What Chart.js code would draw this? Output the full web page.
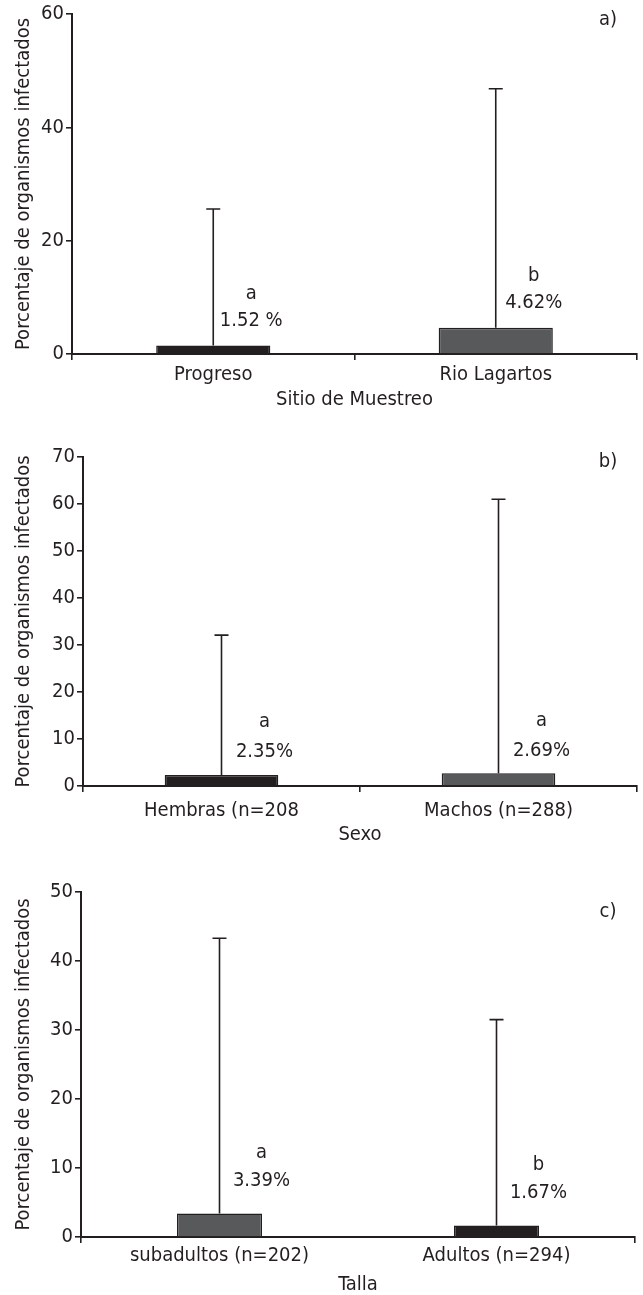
<!DOCTYPE html>
<html>
<head>
<meta charset="utf-8">
<script src="https://cdn.jsdelivr.net/npm/chart.js@4.4.1/dist/chart.umd.min.js"></script>
<style>
  html, body { margin: 0; padding: 0; background: #fff; }
  body { width: 643px; height: 1295px; position: relative; overflow: hidden; }
  .panel { position: absolute; left: 0; width: 643px; }
  canvas { display: block; }
</style>
</head>
<body>
<div class="panel" style="top:0"><canvas id="chartA" width="643" height="414"></canvas></div>
<div class="panel" style="top:420px"><canvas id="chartB" width="643" height="429"></canvas></div>
<div class="panel" style="top:860px"><canvas id="chartC" width="643" height="437"></canvas></div>
<script>
// a) sitio de muestreo
const sitioLabels = ["Progreso", "Rio Lagartos"];
const sitioValues = [1.52, 4.62];
const sitioUpper = [25.6, 46.8];
const sitioLetters = ["a", "b"];
const sitioText = ["1.52 %", "4.62%"];

// b) sexo
const sexoLabels = ["Hembras (n=208", "Machos (n=288)"];
const sexoValues = [2.35, 2.69];
const sexoUpper = [32.1, 61.0];
const sexoLetters = ["a", "a"];
const sexoText = ["2.35%", "2.69%"];

// c) talla
const tallaLabels = ["subadultos (n=202)", "Adultos (n=294)"];
const tallaValues = [3.39, 1.67];
const tallaUpper = [43.3, 31.5];
const tallaLetters = ["a", "b"];
const tallaText = ["3.39%", "1.67%"];

const INK = "#231f20";
const DARK = "#231f20";
const GREY = "#58595b";
const FONT = "'Liberation Sans Narrow', 'DejaVu Sans Condensed', 'Arial Narrow', sans-serif";

// whisker (upper error only) + letter / percentage labels + panel tag
const extras = {
  id: "extras",
  afterDatasetsDraw(chart) {
    const o = chart.options.plugins.extras;
    const meta = chart.getDatasetMeta(0);
    const y = chart.scales.y;
    const g = chart.ctx;
    g.save();
    g.strokeStyle = INK;
    g.lineWidth = 1.6;
    meta.data.forEach((bar, i) => {
      const top = y.getPixelForValue(o.upper[i]);
      g.beginPath();
      g.moveTo(bar.x, bar.y);
      g.lineTo(bar.x, top);
      g.moveTo(bar.x - 7, top);
      g.lineTo(bar.x + 7, top);
      g.stroke();
    });
    g.fillStyle = INK;
    g.font = `20px ${FONT}`;
    g.textAlign = "center";
    g.textBaseline = "middle";
    meta.data.forEach((bar, i) => {
      g.fillText(o.letters[i], bar.x + o.dx, bar.y + o.letterDy);
      g.fillText(o.text[i], bar.x + o.dx, bar.y + o.textDy);
    });
    g.fillText(o.tag, 608, o.tagY);
    g.restore();
  }
};

function panel(id, p) {
  return new Chart(document.getElementById(id), {
    type: "bar",
    data: {
      labels: p.labels,
      datasets: [{
        data: p.values,
        backgroundColor: p.colors,
        borderColor: INK,
        borderWidth: 1.5,
        borderSkipped: "bottom",
        barPercentage: p.barPct,
        categoryPercentage: 1
      }]
    },
    options: {
      responsive: false,
      animation: false,
      layout: { padding: { top: p.top, right: p.right, left: 0, bottom: 0 } },
      plugins: {
        legend: { display: false },
        tooltip: { enabled: false },
        extras: {
          upper: p.upper, letters: p.letters, text: p.text,
          dx: p.dx, letterDy: p.letterDy, textDy: p.textDy,
          tag: p.tag, tagY: p.tagY
        }
      },
      scales: {
        x: {
          type: "category",
          offset: true,
          afterFit: (s) => { s.height = p.xH; },
          grid: {
            offset: true,
            drawOnChartArea: false,
            tickLength: 6,
            lineWidth: 1.6,
            color: (c) => (p.onlyFirstTick && c.index > 0 ? "rgba(0,0,0,0)" : INK)
          },
          border: { display: true, color: INK, width: 2 },
          ticks: { color: INK, font: { family: FONT, size: 20 }, padding: p.xPad, maxRotation: 0, autoSkip: false },
          title: {
            display: true, text: p.xTitle, color: INK,
            font: { family: FONT, size: 20 },
            padding: { top: 0, bottom: p.xTitlePad }
          }
        },
        y: {
          min: 0, max: p.max,
          afterFit: (s) => { s.width = p.yW; },
          grid: { drawOnChartArea: false, tickLength: 6, lineWidth: 1.6, color: INK },
          border: { display: true, color: INK, width: 2 },
          ticks: { stepSize: p.step, color: INK, font: { family: FONT, size: 20 }, padding: 2 },
          title: {
            display: true, text: "Porcentaje de organismos infectados", color: INK,
            font: { family: FONT, size: 20 },
            padding: { top: 12, bottom: 0 }
          }
        }
      }
    },
    plugins: [extras]
  });
}

panel("chartA", {
  labels: sitioLabels, values: sitioValues, upper: sitioUpper,
  letters: sitioLetters, text: sitioText, colors: [DARK, GREY],
  max: 60, step: 20, top: 14, right: 6, yW: 72, xH: 60, xPad: 3, xTitlePad: 2,
  barPct: 0.404, xTitle: "Sitio de Muestreo",
  dx: 38, letterDy: -52, textDy: -25, tag: "a)", tagY: 20
});

panel("chartB", {
  labels: sexoLabels, values: sexoValues, upper: sexoUpper,
  letters: sexoLetters, text: sexoText, colors: [DARK, GREY],
  max: 70, step: 10, top: 37, right: 6, yW: 83, xH: 63, xPad: 7, xTitlePad: 2,
  barPct: 0.41, xTitle: "Sexo",
  dx: 43, letterDy: -53, textDy: -23, tag: "b)", tagY: 42
});

panel("chartC", {
  labels: tallaLabels, values: tallaValues, upper: tallaUpper,
  letters: tallaLetters, text: tallaText, colors: [GREY, DARK],
  max: 50, step: 10, top: 32, right: 8, yW: 81, xH: 60, xPad: 1, xTitlePad: 0,
  barPct: 0.307, xTitle: "Talla", onlyFirstTick: true,
  dx: 42, letterDy: -61, textDy: -33, tag: "c)", tagY: 52
});
</script>
</body>
</html>
